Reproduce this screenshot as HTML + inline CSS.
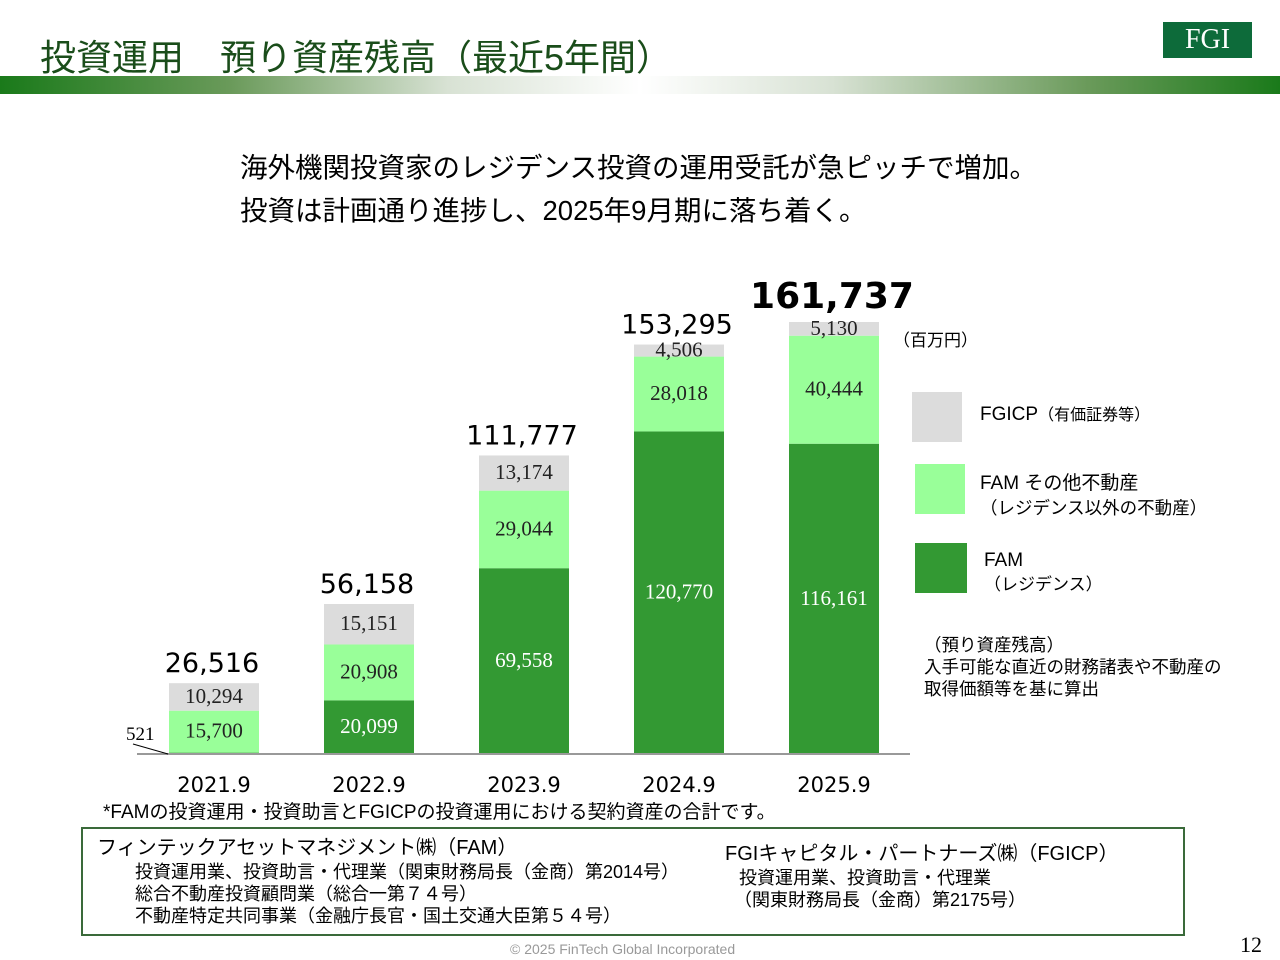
<!DOCTYPE html>
<html><head><meta charset="utf-8"><style>
body{margin:0;width:1280px;height:960px;background:#fff;position:relative;overflow:hidden;font-family:"Liberation Sans","Noto Sans CJK JP",sans-serif;color:#000}
.a{position:absolute;white-space:nowrap}
</style></head><body>
<div class="a" style="left:40px;top:29px;font-size:36px;color:#1a4d1a">投資運用　預り資産残高（最近5年間）</div>
<div class="a" style="left:1163px;top:22px;width:89px;height:36px;background:#0d6b3a;color:#fff;font-family:'Liberation Serif',serif;font-size:28px;text-align:center;line-height:36px">FGI</div>
<div class="a" style="left:0;top:76px;width:1280px;height:18px;background:linear-gradient(90deg,#1a7a1a 0%,#6a9a5a 18%,#d8e2d4 35%,#ffffff 50%,#d8e2d4 65%,#6a9a5a 85%,#1a7a1a 100%)"></div>
<div class="a" style="left:240px;top:146px;font-size:27.5px;line-height:43px">海外機関投資家のレジデンス投資の運用受託が急ピッチで増加。<br>投資は計画通り進捗し、2025年9月期に落ち着く。</div>
<svg class="a" style="left:0;top:0" width="1280" height="960" id="chart"></svg>
<div class="a" style="left:893px;top:326px;font-size:17px">（百万円）</div>
<div class="a" style="left:912px;top:392px;width:50px;height:50px;background:#dcdcdc"></div>
<div class="a" style="left:980px;top:401px;font-size:19px">FGICP<span style="font-size:16px">（有価証券等）</span></div>
<div class="a" style="left:915px;top:464px;width:50px;height:50px;background:#99ff99"></div>
<div class="a" style="left:980px;top:472px;font-size:19px;line-height:24px">FAM その他不動産<br><span style="font-size:17.5px">（レジデンス以外の不動産）</span></div>
<div class="a" style="left:915px;top:543px;width:52px;height:50px;background:#339933"></div>
<div class="a" style="left:984px;top:549px;font-size:19px;line-height:24px">FAM<br><span style="font-size:17px">（レジデンス）</span></div>
<div class="a" style="left:924px;top:634px;font-size:17.5px;line-height:22px">（預り資産残高）<br>入手可能な直近の財務諸表や不動産の<br>取得価額等を基に算出</div>
<div class="a" style="left:103px;top:797px;font-size:19px">*FAMの投資運用・投資助言とFGICPの投資運用における契約資産の合計です。</div>
<div class="a" style="left:81px;top:827px;width:1100px;height:105px;border:2px solid #3a6a3a"></div>
<div class="a" style="left:97px;top:831px;font-size:20px">フィンテックアセットマネジメント㈱（FAM）</div>
<div class="a" style="left:135px;top:861px;font-size:18px;line-height:22px">投資運用業、投資助言・代理業（関東財務局長（金商）第2014号）<br>総合不動産投資顧問業（総合一第７４号）<br>不動産特定共同事業（金融庁長官・国土交通大臣第５４号）</div>
<div class="a" style="left:725px;top:837px;font-size:20px">FGIキャピタル・パートナーズ㈱（FGICP）</div>
<div class="a" style="left:734px;top:867px;font-size:18px;line-height:22px">&nbsp;投資運用業、投資助言・代理業<br>（関東財務局長（金商）第2175号）</div>
<div class="a" style="left:510px;top:941px;font-size:14px;color:#999">© 2025 FinTech Global Incorporated</div>
<div class="a" style="left:1240px;top:932px;font-size:22px;font-family:'Liberation Serif',serif">12</div>
<script>
const categories=["2021.9","2022.9","2023.9","2024.9","2025.9"];
const famResidence=[521,20099,69558,120770,116161];
const famOther=[15700,20908,29044,28018,40444];
const fgicp=[10294,15151,13174,4506,5130];
const totals=[26516,56158,111777,153295,161737];
const svg=document.getElementById('chart');
const NS='http://www.w3.org/2000/svg';
const base=754,scale=432/161737,x0=214,step=155,bw=90;
const y=v=>base-v*scale;
const xc=i=>x0+i*step;
function mk(t,a){const e=document.createElementNS(NS,t);for(const k in a)e.setAttribute(k,a[k]);svg.appendChild(e);return e;}
const fmt=v=>v.toLocaleString('en-US');
const series=[[famResidence,'#339933','#fff','fam-residence'],[famOther,'#99ff99','#222','fam-other'],[fgicp,'#dcdcdc','#222','fgicp']];
categories.forEach((c,i)=>{
  let cum=0;
  series.forEach(([arr,col,tc,nm])=>{
    const v=arr[i];
    const r=mk('rect',{x:xc(i)-bw/2,y:y(cum+v),width:bw,height:v*scale,fill:col});
    
    
    if(v*scale>10){
      const t=mk('text',{x:xc(i),y:y(cum+v/2)+6,'text-anchor':'middle','font-size':21,fill:tc,'font-family':'"Liberation Serif",serif'});
      t.textContent=fmt(v);
      
      
    }
    cum+=v;
  });
  const last=i===categories.length-1;
  const tt=mk('text',{x:xc(i)-2,y:y(totals[i])-(last?14:11),'text-anchor':'middle','font-size':last?36:27,'font-weight':last?'bold':'normal','font-family':'"DejaVu Sans",sans-serif'});
  tt.textContent=fmt(totals[i]);
  
  
  const xl=mk('text',{x:xc(i),y:792,'text-anchor':'middle','font-size':21,'font-family':'"DejaVu Sans",sans-serif'});
  xl.textContent=c;
  
  
});
const ax=mk('line',{x1:137,y1:base,x2:910,y2:base,stroke:'#999','stroke-width':2});


const s=mk('text',{x:126,y:740,'font-size':19,'font-family':'"Liberation Serif",serif'});
s.textContent=fmt(famResidence[0]);


const ll=mk('line',{x1:133,y1:744,x2:168,y2:754,stroke:'#000','stroke-width':1});


</script>
</body></html>
